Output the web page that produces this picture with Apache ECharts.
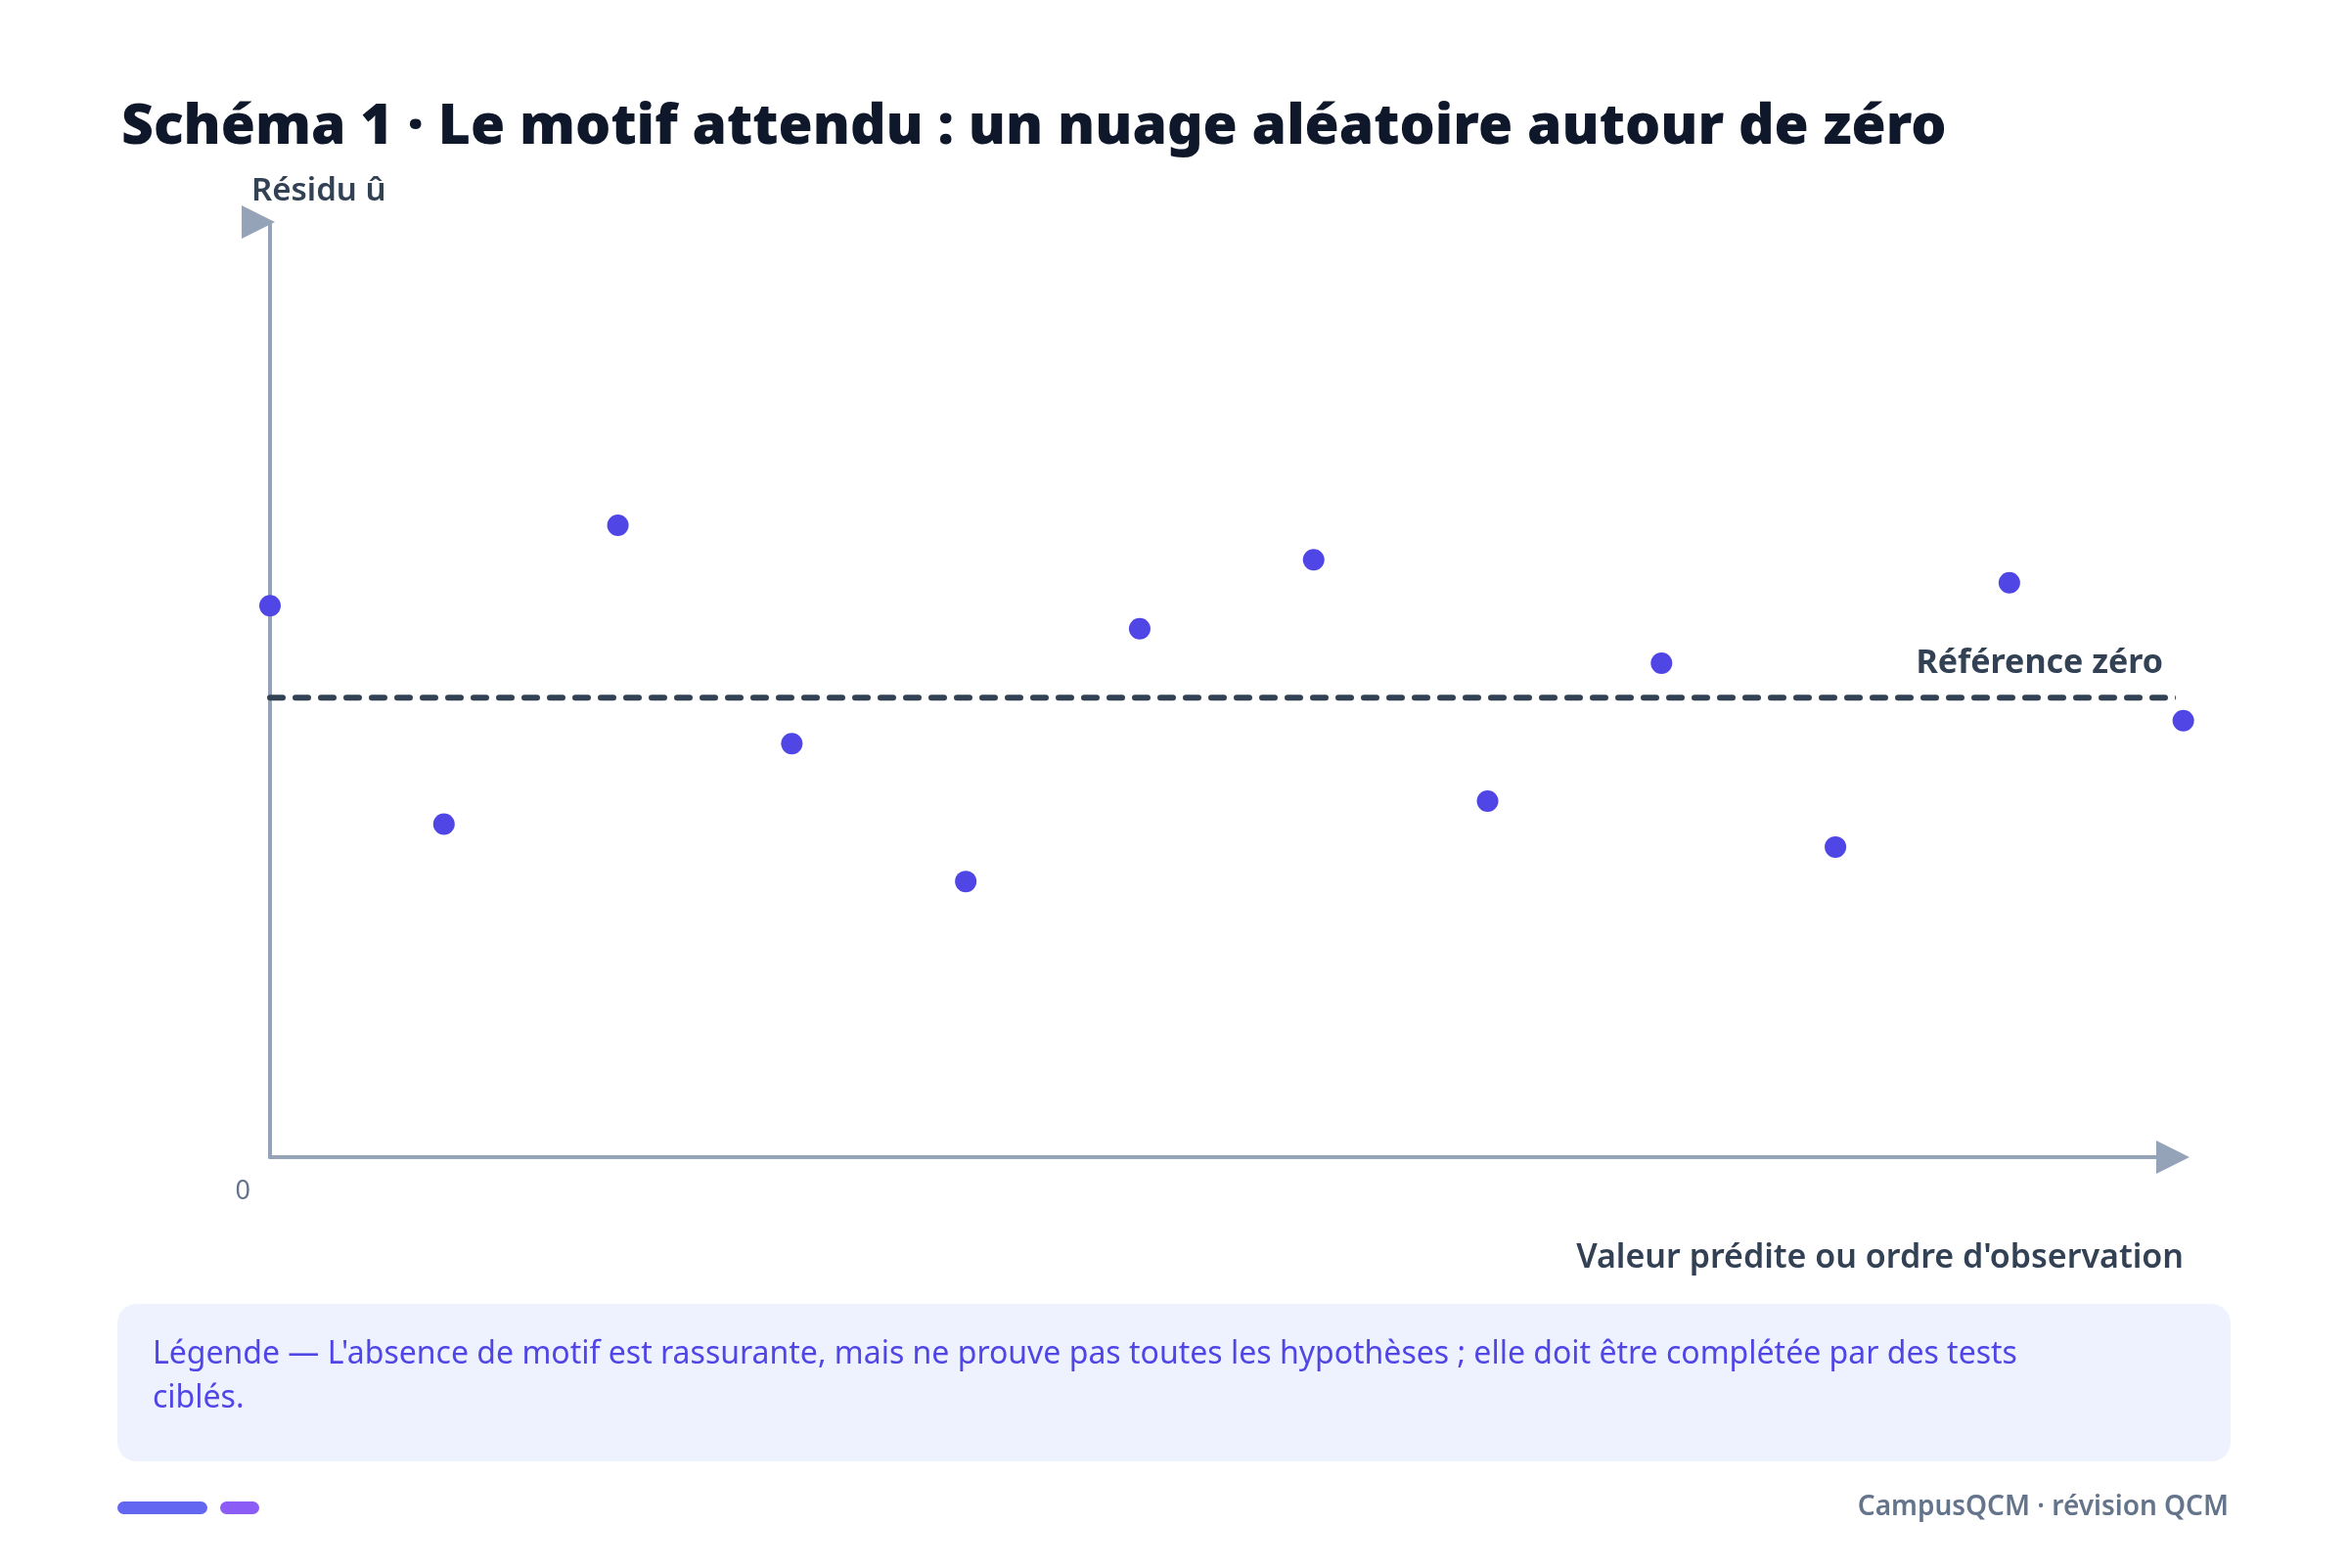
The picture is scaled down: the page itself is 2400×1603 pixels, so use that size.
<!DOCTYPE html>
<html>
<head>
<meta charset="utf-8">
<title>Schéma 1</title>
<script src="https://cdn.jsdelivr.net/npm/echarts@6/dist/echarts.min.js"></script>
<style>
  html, body { margin: 0; padding: 0; background: #fff; }
  #main { width: 2400px; height: 1603px; }
</style>
</head>
<body>
<div id="main"></div>
<script>
var obsOrder = [0, 1, 2, 3, 4, 5, 6, 7, 8, 9, 10, 11];
var residuals = [0.8, -1.1, 1.5, -0.4, -1.6, 0.6, 1.2, -0.9, 0.3, -1.3, 1.0, -0.2];
// droite de référence (résidu nul)
var zeroRefX = [0, 11];
var zeroRefY = [0, 0];
// seule graduation affichée
var tickLabels = ['0'];

var FONT = '"Noto Sans", "DejaVu Sans", sans-serif';
var axisColor = '#94a3b8';

var chart = echarts.init(document.getElementById('main'), null, { renderer: 'canvas' });

var scatterData = obsOrder.map(function (x, i) { return [x, residuals[i]]; });
var zeroData = zeroRefX.map(function (x, i) { return [x, zeroRefY[i]]; });

var option = {
    backgroundColor: '#ffffff',
    animation: false,
    textStyle: { fontFamily: FONT },
    title: {
        text: 'Schéma 1 · Le motif attendu : un nuage aléatoire autour de zéro',
        left: 119,
        top: 97,
        textStyle: {
            fontFamily: FONT,
            fontSize: 57,
            fontWeight: 900,
            color: '#0f172a'
        }
    },
    grid: {
        left: 276,
        right: 179,
        top: 227,
        bottom: 420,
        containLabel: false
    },
    xAxis: {
        type: 'value',
        min: 0,
        max: 10.94,
        splitLine: { show: false },
        axisTick: { show: false },
        axisLine: {
            show: true,
            onZero: false,
            symbol: ['none', 'triangle'],
            symbolSize: [34, 34],
            lineStyle: { color: axisColor, width: 4 }
        },
        axisLabel: {
            show: true,
            margin: 22,
            align: 'right',
            padding: [0, 20, 0, 0],
            color: '#64748b',
            fontSize: 27,
            fontFamily: FONT,
            formatter: function (v) {
                return v === 0 ? tickLabels[0] : '';
            }
        }
    },
    yAxis: {
        type: 'value',
        min: -4,
        max: 4.14,
        splitLine: { show: false },
        axisTick: { show: false },
        axisLabel: { show: false },
        axisLine: {
            show: true,
            onZero: false,
            // flèche tournée vers la droite, comme sur l'original
            symbol: ['none', 'path://M0,0L34,17L0,34ZM58,17L58,17'],
            symbolSize: [58, 34],
            lineStyle: { color: axisColor, width: 4 }
        }
    },
    series: [
        {
            name: 'Référence zéro',
            type: 'line',
            data: zeroData,
            clip: false,
            showSymbol: false,
            silent: true,
            z: 2,
            lineStyle: {
                color: '#334155',
                width: 6,
                type: [13, 13],
                cap: 'round'
            }
        },
        {
            name: 'Résidus',
            type: 'scatter',
            data: scatterData,
            clip: false,
            symbol: 'circle',
            symbolSize: 22,
            z: 3,
            itemStyle: { color: '#4f46e5', opacity: 1 }
        }
    ],
    graphic: [
        {
            type: 'text',
            left: 257,
            top: 179,
            style: {
                text: 'Résidu û',
                font: '600 33px ' + FONT,
                fill: '#334155'
            }
        },
        {
            type: 'text',
            right: 189,
            top: 661,
            style: {
                text: 'Référence zéro',
                font: 'bold 34px ' + FONT,
                fill: '#334155'
            }
        },
        {
            type: 'text',
            right: 168,
            top: 1269,
            style: {
                text: "Valeur prédite ou ordre d'observation",
                font: '600 34px ' + FONT,
                fill: '#334155'
            }
        },
        {
            type: 'rect',
            shape: { x: 120, y: 1333, width: 2160, height: 161, r: 20 },
            style: { fill: '#eef2ff' }
        },
        {
            type: 'text',
            x: 156,
            y: 1362,
            style: {
                text: "Légende — L'absence de motif est rassurante, mais ne prouve pas toutes les hypothèses ; elle doit être complétée par des tests\nciblés.",
                font: '32px ' + FONT,
                lineHeight: 45,
                fill: '#4f46e5'
            }
        },
        {
            type: 'rect',
            shape: { x: 120, y: 1535, width: 92, height: 13, r: 6.5 },
            style: { fill: '#6366f1' }
        },
        {
            type: 'rect',
            shape: { x: 225, y: 1535, width: 40, height: 13, r: 6.5 },
            style: { fill: '#8b5cf6' }
        },
        {
            type: 'text',
            right: 122,
            top: 1527,
            style: {
                text: 'CampusQCM · révision QCM',
                font: '600 28px ' + FONT,
                fill: '#64748b'
            }
        }
    ]
};

chart.setOption(option);
</script>
</body>
</html>
